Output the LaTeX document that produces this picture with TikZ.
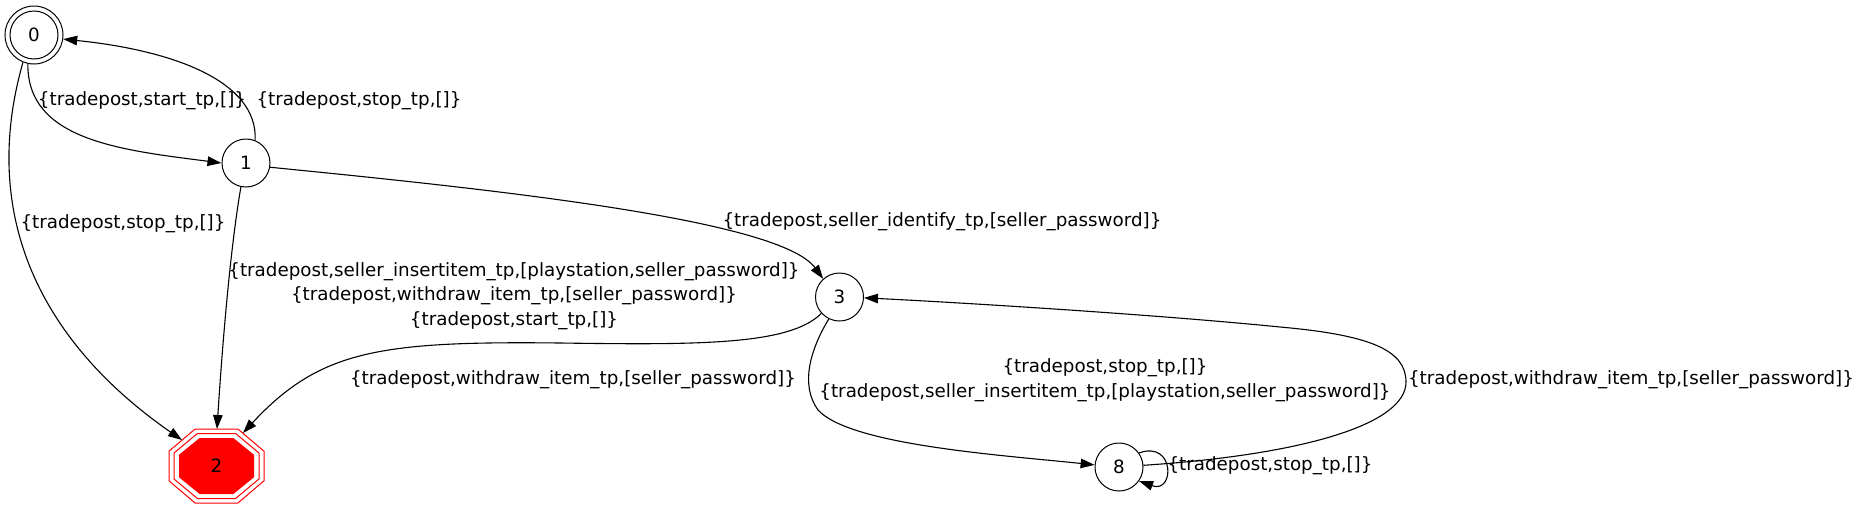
\documentclass[tikz,border=0pt]{standalone}
\usepackage{fontspec}
\setmainfont{DejaVu Sans}
\usetikzlibrary{arrows.meta,calc}
\newcommand\lblfont{\fontsize{18.3}{24.4}\selectfont}
\tikzset{
  state/.style={circle,draw,line width=1pt,minimum size=48pt,inner sep=0pt,font=\lblfont},
  edge/.style={line width=1.1pt,-{Triangle[length=14pt,width=9.5pt]}},
  lbl/.style={inner sep=0pt,font=\lblfont,align=center},
  oct/.style={draw=red,line width=1pt},
}
\begin{document}
\begin{tikzpicture}[x=1pt,y=-1pt]
\useasboundingbox (0,0) rectangle (1864,509);
% states
\node[state] (n0) at (34,35) {0};
\node[circle,draw,line width=1pt,minimum size=58pt,inner sep=0pt] (n0o) at (34,35) {};
\node[state] (n1) at (246,163) {1};
\node[state] (n3) at (839.5,297) {3};
\node[state] (n8) at (1119,467) {8};
% final state 2 (triple octagon)
\begin{scope}[shift={(216.5,466)}]
\draw[oct] (47.5,14.8) -- (21.4,37) -- (-21.4,37) -- (-47.5,14.8) -- (-47.5,-14.8) -- (-21.4,-37) -- (21.4,-37) -- (47.5,-14.8) -- cycle;
\draw[oct] (42.5,13) -- (19.1,32.5) -- (-19.1,32.5) -- (-42.5,13) -- (-42.5,-13) -- (-19.1,-32.5) -- (19.1,-32.5) -- (42.5,-13) -- cycle;
\draw[oct,fill=red] (37,11) -- (16.7,27.5) -- (-16.7,27.5) -- (-37,11) -- (-37,-11) -- (-16.7,-27.5) -- (16.7,-27.5) -- (37,-11) -- cycle;
\end{scope}
\node[lbl] (n2) at (216.5,466) {2};
\coordinate (t02) at ($(n2)+(-34.5,-26)$);
\coordinate (t12) at ($(n2)+(0.5,-37)$);
\coordinate (t32) at ($(n2)+(26.5,-33)$);
% edges
\draw[edge] (n0o.258) .. controls (27,140) and (120,150) .. (n1.180);
\draw[edge] (n1.68) .. controls (258,80) and (170,50) .. (n0o.352);
\draw[edge] (n0o.248) .. controls (-22,220) and (45,345) .. (t02);
\draw[edge] (n1.258) .. controls (230,250) and (222,350) .. (t12);
\draw[edge] (n1.350) .. controls (500,190) and (780,220) .. (n3.132);
\draw[edge] (n3.222) .. controls (790,345) and (700,345) .. (560,343) .. controls (380,341) and (320,350) .. (t32);
\draw[edge] (n3.244) .. controls (810,350) and (800,385) .. (818,410) .. controls (850,445) and (1000,455) .. (n8.175);
\draw[edge] (n8.4) .. controls (1300,455) and (1406,425) .. (1406,382) .. controls (1406,350) and (1370,335) .. (1280,327) .. controls (1150,314) and (950,302) .. (n3.358);
\draw[edge] (n8.35) .. controls (1175,440) and (1175,494) .. (n8.-35);
% labels
\node[lbl] (l01) at (142,101) {\{tradepost,start\_tp,[]\}};
\node[lbl] (l10) at (359,101) {\{tradepost,stop\_tp,[]\}};
\node[lbl] (l02) at (123,224) {\{tradepost,stop\_tp,[]\}};
\node[lbl] (l12) at (514,296) {\{tradepost,seller\_insertitem\_tp,[playstation,seller\_password]\}\\\{tradepost,withdraw\_item\_tp,[seller\_password]\}\\\{tradepost,start\_tp,[]\}};
\node[lbl] (l13) at (942,222) {\{tradepost,seller\_identify\_tp,[seller\_password]\}};
\node[lbl] (l32) at (573,380) {\{tradepost,withdraw\_item\_tp,[seller\_password]\}};
\node[lbl] (l38) at (1105,380) {\{tradepost,stop\_tp,[]\}\\\{tradepost,seller\_insertitem\_tp,[playstation,seller\_password]\}};
\node[lbl] (l83) at (1631,380) {\{tradepost,withdraw\_item\_tp,[seller\_password]\}};
\node[lbl] (l88) at (1270,466) {\{tradepost,stop\_tp,[]\}};
\end{tikzpicture}
\end{document}
